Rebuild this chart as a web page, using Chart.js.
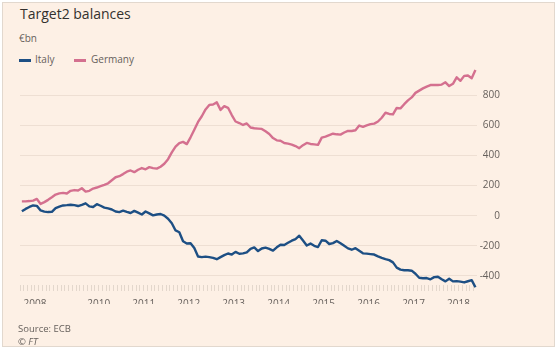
<!DOCTYPE html>
<html>
<head>
<meta charset="utf-8">
<script src="https://cdn.jsdelivr.net/npm/chart.js@4"></script>
<style>
  html, body { margin: 0; padding: 0; background: #fff; }
  body { width: 558px; height: 350px; position: relative; overflow: hidden; font-family: "Open Sans", sans-serif; }
  .frame { position: absolute; left: 2px; top: 2px; width: 551px; height: 343px; background: #fdf0e5; border: 1px solid #e2d8ce; }
  .txt { position: absolute; white-space: nowrap; color: #66605c; }
  #title { left: 20px; top: 7px; font-size: 14px; line-height: 14px; color: #33302e; }
  #unit { left: 19px; top: 33px; font-size: 10px; line-height: 10px; }
  .key { position: absolute; top: 59px; width: 12px; height: 3px; }
  .keytxt { top: 54px; font-size: 10px; line-height: 10px; }
  #source { left: 18px; top: 324px; font-size: 9.5px; line-height: 10px; }
  #ft { left: 18px; top: 337px; font-size: 9.5px; line-height: 10px; font-style: italic; }
  canvas { position: absolute; left: 0; top: 0; }
</style>
</head>
<body>
<div class="frame"></div>
<div class="txt" id="title">Target2 balances</div>
<div class="txt" id="unit">€bn</div>
<div class="key" style="left:19px;background:#1d4f84"></div>
<div class="txt keytxt" style="left:35px">Italy</div>
<div class="key" style="left:74px;background:#d4708f"></div>
<div class="txt keytxt" style="left:91px">Germany</div>
<canvas id="chart" width="558" height="350"></canvas>
<div class="txt" id="source">Source: ECB</div>
<div class="txt" id="ft">© FT</div>
<script>
// monthly, April 2008 to May 2018 (€bn)
const startYear = 2008;
const startMonth = 4;
const italy = [
  29, 45, 58, 68, 65, 35, 27, 24, 25, 50,
  60, 68, 70, 73, 70, 64, 72, 82, 62, 58,
  76, 66, 54, 48, 41, 28, 24, 33, 25, 18,
  32, 20, 8, 28, 15, 2, 8, 11, 0, -20,
  -50, -98, -110, -170, -185, -183, -215, -271, -275, -272,
  -275, -280, -289, -275, -262, -251, -258, -240, -253, -250,
  -244, -220, -211, -235, -218, -212, -220, -232, -210,
  -193, -195, -180, -166, -155, -133, -165, -198, -185, -200,
  -208, -163, -166, -188, -182, -168, -183, -200, -217, -226,
  -216, -233, -250, -252, -255, -258, -270, -280, -288, -295,
  -310, -345, -358, -362, -362, -365, -385, -412, -415, -414,
  -422, -408, -405, -422, -436, -418, -436, -434, -438, -443,
  -435, -428, -475
];
const germany = [
  95, 95, 97, 100, 111, 78, 90, 105, 122, 140,
  148, 151, 147, 165, 170, 167, 182, 160, 165, 180,
  187, 196, 205, 215, 235, 255, 262, 276, 292, 300,
  289, 305, 316, 308, 322, 316, 312, 325, 345, 375,
  420, 458, 482, 490, 475, 520, 570, 622, 660, 705,
  735, 738, 752, 702, 727, 716, 668, 625, 615, 602,
  612, 585, 580, 578, 576, 560, 542, 515, 500,
  497, 482, 478, 472, 462, 448, 468, 483, 476, 473,
  470, 518, 525, 535, 544, 540, 538, 552, 563, 562,
  567, 598, 590, 600, 608, 611, 625, 650, 683, 675,
  672, 715, 712, 740, 765, 785, 815, 830, 845, 857,
  867, 868, 867, 870, 885, 860, 875, 918, 895, 928,
  930, 912, 967
];
const yTicks = [-400, -200, 0, 200, 400, 600, 800];
// year labels: [year, month they sit on, text]
const xLabels = [
  [2008, 8, "2008"], [2010, 1, "2010"], [2011, 1, "2011"], [2012, 1, "2012"],
  [2013, 1, "2013"], [2014, 1, "2014"], [2015, 1, "2015"], [2016, 1, "2016"],
  [2017, 1, "2017"], [2018, 1, "2018"]
];

const grey = "#66605c";
const font = { family: "'Open Sans', sans-serif", size: 10 };

// put each monthly value at the middle of its month
const toPoints = (arr) => arr.map((v, i) => ({
  x: startYear + (startMonth - 1 + i + 0.5) / 12,
  y: v
}));
const labelMonths = xLabels.map((l) => l[0] * 12 + l[1] - 1);

new Chart(document.getElementById("chart"), {
  type: "line",
  data: {
    datasets: [
      { label: "Italy", data: toPoints(italy), borderColor: "#1d4f84" },
      { label: "Germany", data: toPoints(germany), borderColor: "#d4708f" }
    ]
  },
  options: {
    responsive: false,
    animation: false,
    devicePixelRatio: 1,
    layout: { padding: { left: 20, right: 58, top: 65, bottom: 46 } },
    elements: {
      line: { borderWidth: 2.4, tension: 0, borderJoinStyle: "round" },
      point: { radius: 0 }
    },
    datasets: { line: { clip: false } },
    plugins: { legend: { display: false }, tooltip: { enabled: false } },
    scales: {
      x: {
        type: "linear",
        min: 2008.25,
        max: 2018.41,
        afterBuildTicks: (scale) => {
          const ticks = [];
          for (let m = Math.ceil(scale.min * 12); m <= Math.floor(scale.max * 12); m++) {
            ticks.push({ value: m / 12 });
          }
          scale.ticks = ticks;
        },
        afterFit: (scale) => { scale.height = 19; },
        grid: { drawOnChartArea: false, drawTicks: true, tickLength: 6, color: "#e3d7cc", lineWidth: 1 },
        border: { display: false },
        ticks: {
          autoSkip: false,
          maxRotation: 0,
          padding: 7,
          color: grey,
          font: font,
          callback: (value) => {
            const idx = labelMonths.indexOf(Math.round(value * 12));
            return idx >= 0 ? xLabels[idx][2] : "";
          }
        }
      },
      y: {
        position: "right",
        min: -460,
        max: 1000,
        afterBuildTicks: (scale) => { scale.ticks = yTicks.map((v) => ({ value: v })); },
        afterFit: (scale) => { scale.width = 23; },
        grid: { color: "rgba(90,60,30,0.09)", drawTicks: false, lineWidth: 1 },
        border: { display: false },
        ticks: { crossAlign: "far", padding: 0, color: grey, font: font }
      }
    }
  }
});
</script>
</body>
</html>
